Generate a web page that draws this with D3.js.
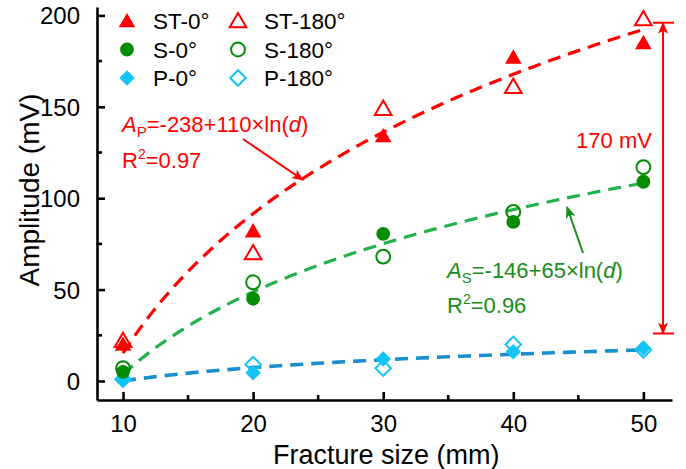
<!DOCTYPE html>
<html>
<head>
<meta charset="utf-8">
<script src="https://cdn.jsdelivr.net/npm/d3@7"></script>
<style>
  html, body { margin: 0; padding: 0; background: #fff; }
  svg { display: block; font-family: "Liberation Sans", Arial, sans-serif; }
</style>
</head>
<body>
<svg id="chart" width="686" height="469"></svg>
<script>
// Fracture sizes (mm)
const sizes = [10, 20, 30, 40, 50];

// Amplitudes (mV) per wave type and orientation
const st0   = [20, 82, 134, 177, 185];
const st180 = [22, 70, 149, 161, 198];
const s0    = [5, 45, 80.5, 87, 109];
const s180  = [7, 54, 68, 92.5, 117];
const p0    = [0.5, 4.5, 12, 16, 18];
const p180  = [1, 9, 7, 20, 17];

// Logarithmic fits A = a + b*ln(d)
const fitST = { a: -238, b: 110 };
const fitS  = { a: -146, b: 65 };
const fitP  = { a: -24.3, b: 10.56 };

// Axis ticks
const xTicks = [10, 20, 30, 40, 50];
const xMinor = [15, 25, 35, 45];
const yTicks = [0, 50, 100, 150, 200];
const yMinor = [25, 75, 125, 175];

// Difference annotation (mV)
const diffTop = 196;
const diffValue = 170;

const RED = "#ff0000";
const GREEN_M = "#058c05";
const GREEN_L = "#22b14c";
const GREEN_T = "#1a8c1a";
const BLUE_L = "#1b8fcc";
const BLUE_M = "#12c3f5";

const svg = d3.select("#chart");
const x = d3.scaleLinear().domain([8, 52.2]).range([97, 672]);
const y = d3.scaleLinear().domain([-10.4, 204.6]).range([400, 7]);

// Fitted curves
const curve = f => d3.range(10, 50.01, 0.5).map(d => [d, f.a + f.b * Math.log(d)]);
const line = d3.line().x(d => x(d[0])).y(d => y(d[1]));
[[fitST, RED, 3.2], [fitS, GREEN_L, 3.2], [fitP, BLUE_L, 3.6]].forEach(([f, c, w]) => {
  svg.append("path").attr("d", line(curve(f)))
    .attr("fill", "none").attr("stroke", c).attr("stroke-width", w)
    .attr("stroke-dasharray", "13,8");
});

// Axes
const axisG = svg.append("g");
const xAxis = d3.axisBottom(x).tickValues(xTicks).tickSizeInner(-8).tickSizeOuter(0).tickPadding(15);
const xa = axisG.append("g").attr("transform", "translate(0,400)").call(xAxis);
const yAxis = d3.axisLeft(y).tickValues(yTicks).tickSizeInner(-8).tickSizeOuter(0).tickPadding(17);
const ya = axisG.append("g").attr("transform", "translate(97,0)").call(yAxis);
[xa, ya].forEach(g => {
  g.select(".domain").attr("stroke", "#000").attr("stroke-width", 2.6);
  g.selectAll(".tick line").attr("stroke", "#000").attr("stroke-width", 2.6);
  g.selectAll(".tick text").attr("fill", "#000").attr("font-size", 24)
    .attr("font-family", "Liberation Sans, Arial, sans-serif");
});
ya.selectAll(".tick text").attr("dy", "0.35em");
xMinor.forEach(v => axisG.append("line").attr("x1", x(v)).attr("x2", x(v))
  .attr("y1", 400).attr("y2", 395).attr("stroke", "#000").attr("stroke-width", 2.6));
yMinor.forEach(v => axisG.append("line").attr("x1", 97).attr("x2", 102)
  .attr("y1", y(v)).attr("y2", y(v)).attr("stroke", "#000").attr("stroke-width", 2.6));

svg.append("text").attr("x", x(30) + 3).attr("y", 464).attr("text-anchor", "middle")
  .attr("font-size", 27).text("Fracture size (mm)");
svg.append("text").attr("transform", "translate(39,190) rotate(-90)")
  .attr("text-anchor", "middle").attr("font-size", 28).text("Amplitude (mV)");

// Markers
const sym = {
  tri: d3.symbol().type(d3.symbolTriangle).size(120)(),
  circ: d3.symbol().type(d3.symbolCircle).size(150)(),
  dia: d3.symbol().type(d3.symbolSquare).size(120)()
};
function drawMark(g, kind, cx, cy, color, filled) {
  const p = g.append("path").attr("d", sym[kind])
    .attr("transform", `translate(${cx},${cy})` + (kind === "dia" ? " rotate(45)" : "") + (kind === "tri" ? " translate(0,1.5)" : ""));
  if (filled) p.attr("fill", color).attr("stroke", "none");
  else p.attr("fill", "none").attr("stroke", color).attr("stroke-width", 2);
  return p;
}
const series = [
  [p180, "dia", BLUE_M, false], [p0, "dia", BLUE_M, true],
  [s0, "circ", GREEN_M, true], [s180, "circ", GREEN_M, false],
  [st0, "tri", RED, true], [st180, "tri", RED, false]
];
const markG = svg.append("g");
series.forEach(([vals, kind, color, filled]) => {
  vals.forEach((v, i) => drawMark(markG, kind, x(sizes[i]), y(v), color, filled));
});

// Legend
const legend = [
  ["ST-0°", "tri", RED, true, 0, 0], ["ST-180°", "tri", RED, false, 1, 0],
  ["S-0°", "circ", GREEN_M, true, 0, 1], ["S-180°", "circ", GREEN_M, false, 1, 1],
  ["P-0°", "dia", BLUE_M, true, 0, 2], ["P-180°", "dia", BLUE_M, false, 1, 2]
];
const lg = svg.append("g");
legend.forEach(([label, kind, color, filled, col, row]) => {
  const mx = col === 0 ? 127 : 238;
  const cy = 21 + row * 28.5;
  drawMark(lg, kind, mx, cy, color, filled);
  lg.append("text").attr("x", mx + 26).attr("y", cy).attr("dy", "0.36em")
    .attr("font-size", 22.5).text(label);
});

// Arrow markers
const defs = svg.append("defs");
function arrowHead(id, color) {
  defs.append("marker").attr("id", id).attr("viewBox", "0 0 12 10")
    .attr("refX", 11).attr("refY", 5).attr("markerWidth", 12).attr("markerHeight", 10)
    .attr("markerUnits", "userSpaceOnUse").attr("orient", "auto-start-reverse")
    .append("path").attr("d", "M0,0 L12,5 L0,10 L3,5 Z").attr("fill", color);
}
arrowHead("ahRed", RED);
arrowHead("ahGreen", GREEN_T);

// ST fit annotation
const eqR = svg.append("text").attr("x", 122).attr("y", 132).attr("font-size", 22).attr("fill", RED);
eqR.append("tspan").attr("font-style", "italic").text("A");
eqR.append("tspan").attr("font-size", 15).attr("dy", 5).text("P");
eqR.append("tspan").attr("dy", -5).text("=-238+110×ln(");
eqR.append("tspan").attr("font-style", "italic").text("d");
eqR.append("tspan").text(")");
const r2R = svg.append("text").attr("x", 122).attr("y", 168).attr("font-size", 22).attr("fill", RED);
r2R.append("tspan").text("R");
r2R.append("tspan").attr("font-size", 14).attr("dy", -9).text("2");
r2R.append("tspan").attr("dy", 9).text("=0.97");
svg.append("line").attr("x1", 243).attr("y1", 139).attr("x2", 303).attr("y2", 180)
  .attr("stroke", RED).attr("stroke-width", 2).attr("marker-end", "url(#ahRed)");

// S fit annotation
const eqG = svg.append("text").attr("x", 447).attr("y", 278).attr("font-size", 22).attr("fill", GREEN_T);
eqG.append("tspan").attr("font-style", "italic").text("A");
eqG.append("tspan").attr("font-size", 15).attr("dy", 5).text("S");
eqG.append("tspan").attr("dy", -5).text("=-146+65×ln(");
eqG.append("tspan").attr("font-style", "italic").text("d");
eqG.append("tspan").text(")");
const r2G = svg.append("text").attr("x", 447).attr("y", 313).attr("font-size", 22).attr("fill", GREEN_T);
r2G.append("tspan").text("R");
r2G.append("tspan").attr("font-size", 14).attr("dy", -9).text("2");
r2G.append("tspan").attr("dy", 9).text("=0.96");
svg.append("line").attr("x1", 583).attr("y1", 253).attr("x2", 567).attr("y2", 207)
  .attr("stroke", GREEN_T).attr("stroke-width", 2).attr("marker-end", "url(#ahGreen)");

// Amplitude difference between 0° and 180° ST at the largest size
const ax = 663;
const yT = y(diffTop), yB = y(diffTop - diffValue);
svg.append("line").attr("x1", ax).attr("x2", ax).attr("y1", yT).attr("y2", yB)
  .attr("stroke", RED).attr("stroke-width", 2)
  .attr("marker-start", "url(#ahRed)").attr("marker-end", "url(#ahRed)");
[yT, yB].forEach(v => svg.append("line").attr("x1", ax - 10).attr("x2", ax + 11)
  .attr("y1", v).attr("y2", v).attr("stroke", RED).attr("stroke-width", 2));
svg.append("text").attr("x", 614).attr("y", 148).attr("text-anchor", "middle")
  .attr("font-size", 22).attr("fill", RED).text(diffValue + " mV");
</script>
</body>
</html>
